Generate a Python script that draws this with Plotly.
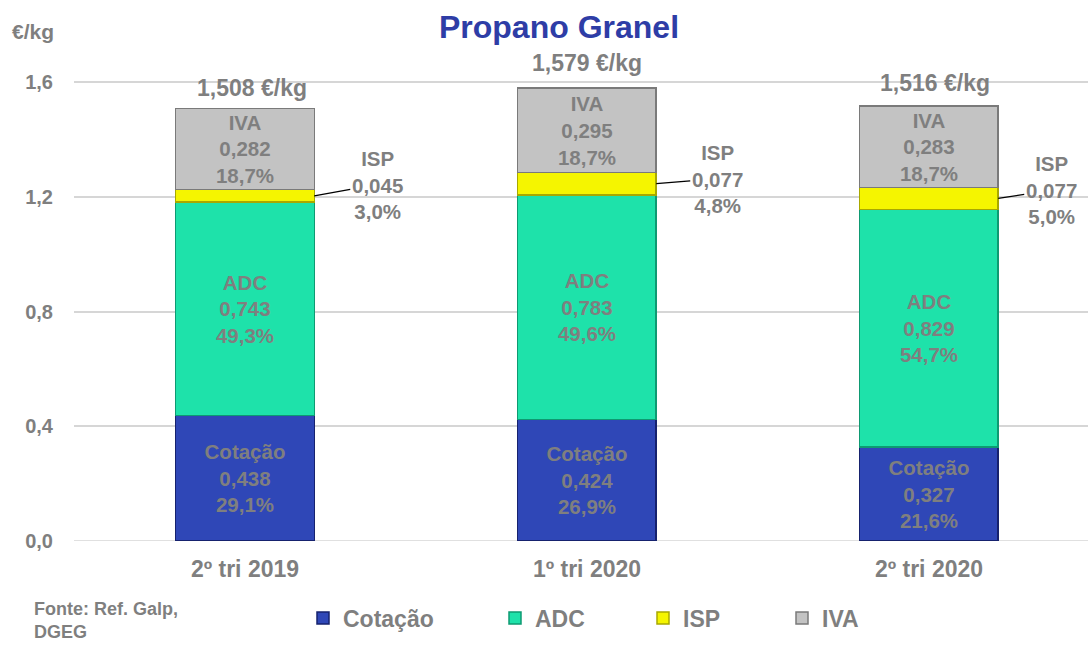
import plotly.graph_objects as go

categories = ["2º tri 2019", "1º tri 2020", "2º tri 2020"]
cotacao = [0.438, 0.424, 0.327]
adc = [0.743, 0.783, 0.829]
isp = [0.045, 0.077, 0.077]
iva = [0.282, 0.295, 0.283]
totals = [1.508, 1.579, 1.516]
pct_cotacao = [29.1, 26.9, 21.6]
pct_adc = [49.3, 49.6, 54.7]
pct_isp = [3.0, 4.8, 5.0]
pct_iva = [18.7, 18.7, 18.7]

FONT = "Liberation Sans, Arial, sans-serif"
GREY = "#7f7f7f"

W, H = 1088, 645
ML, MR, MT, MB = 74, 0, 39, 104
PW, PH = W - ML - MR, H - MT - MB


def px_x(px):
    return (px - ML) / PW


def px_y(py):
    return (H - MB - py) / PH


def cx(px):
    return px / W


def cy(py):
    return 1 - py / H


def fmt(v, d):
    return f"{v:.{d}f}".replace(".", ",")


def seg_text(name, vals, pcts):
    return [f"{name}<br>{fmt(v, 3)}<br>{fmt(p, 1)}%" for v, p in zip(vals, pcts)]


series = [
    ("Cotação", cotacao, pct_cotacao, "#2f47b7", "#16226e", True, "legend2", 303),
    ("ADC", adc, pct_adc, "#1ee2aa", "#0e9a72", True, "legend3", 495),
    ("ISP", isp, pct_isp, "#f5f500", "#a8a800", False, "legend4", 643),
    ("IVA", iva, pct_iva, "#c3c3c3", "#7a7a7a", True, "legend5", 782),
]

fig = go.Figure()
for name, vals, pcts, col, edge, inside, lg, _ in series:
    fig.add_trace(go.Bar(
        x=categories, y=vals, name=name, legend=lg, showlegend=True,
        marker=dict(color=col, line=dict(color=edge, width=1.5)),
        width=0.405,
        text=seg_text(name, vals, pcts) if inside else None,
        textposition="inside" if inside else "none",
        insidetextanchor="middle",
        constraintext="none",
        textangle=0,
        textfont=dict(family=FONT, size=20.5, color=GREY, weight="bold"),
        hoverinfo="skip",
    ))

annotations = []
# totals
total_shift = [(7, 20), (0, 25), (6, 23)]
for c, t, (xs, ys) in zip(categories, totals, total_shift):
    annotations.append(dict(
        x=c, y=t, xref="x", yref="y", text=f"{fmt(t, 3)} €/kg",
        showarrow=False, xshift=xs, yshift=ys,
        font=dict(family=FONT, size=23, color=GREY, weight="bold"),
    ))

# ISP callouts
base = [a + b for a, b in zip(cotacao, adc)]
isp_offsets = [(63, -11), (61, -5), (53, -8)]
for i, c in enumerate(categories):
    annotations.append(dict(
        x=i + 0.2025, y=base[i] + isp[i] / 2, xref="x", yref="y",
        text=f"ISP<br>{fmt(isp[i], 3)}<br>{fmt(pct_isp[i], 1)}%",
        showarrow=True, arrowhead=0, arrowwidth=1.3, arrowcolor="#000000",
        ax=isp_offsets[i][0], ay=isp_offsets[i][1], standoff=0,
        font=dict(family=FONT, size=20.5, color=GREY, weight="bold"),
    ))

# unit label and source
annotations.append(dict(
    x=px_x(10), y=px_y(31), xref="paper", yref="paper",
    xanchor="left", yanchor="middle", text="€/kg", showarrow=False,
    font=dict(family=FONT, size=21, color=GREY, weight="bold"),
))
annotations.append(dict(
    x=px_x(33), y=px_y(643), xref="paper", yref="paper",
    xanchor="left", yanchor="bottom", align="left", borderpad=0,
    text="Fonte: Ref. Galp,<br>DGEG", showarrow=False,
    font=dict(family=FONT, size=18, color=GREY, weight="bold"),
))

leg_font = dict(family=FONT, size=23, color=GREY, weight="bold")
legends = {}
for name, *_rest in series:
    lg, lx = _rest[-2], _rest[-1]
    legends[lg] = dict(orientation="h", yref="container", xref="container",
                       x=cx(lx), y=cy(618), yanchor="middle", xanchor="left",
                       font=leg_font, bgcolor="rgba(0,0,0,0)", borderwidth=0)

fig.update_layout(
    width=W, height=H,
    barmode="stack",
    showlegend=True,
    paper_bgcolor="white", plot_bgcolor="white",
    separators=",.",
    margin=dict(l=ML, r=MR, t=MT, b=MB),
    title=dict(text="Propano Granel", x=cx(559), xanchor="center",
               y=cy(27), yanchor="middle", xref="container", yref="container",
               font=dict(family=FONT, size=32, color="#2e3da6", weight="bold")),
    xaxis=dict(range=[-0.5, 2.465], showgrid=False, zeroline=False,
               showline=False, ticks="", ticklabelstandoff=12,
               tickfont=dict(family=FONT, size=23, color=GREY, weight="bold")),
    yaxis=dict(range=[0, 1.75], tickmode="array",
               tickvals=[0, 0.4, 0.8, 1.2, 1.6],
               ticktext=["0,0", "0,4", "0,8", "1,2", "1,6"],
               showgrid=True, gridcolor="#d6d6d6", gridwidth=1.5,
               zeroline=False, showline=False, ticks="",
               ticklabelstandoff=20,
               tickfont=dict(family=FONT, size=20, color=GREY, weight="bold")),
    annotations=annotations,
    shapes=[dict(type="line", xref="paper", yref="y", x0=0, x1=1, y0=0, y1=0,
                 line=dict(color="#d6d6d6", width=1.5), layer="below")],
    **legends,
)

fig.write_html(
    "out.html",
    config={"displayModeBar": False},
    post_script="document.body.style.margin='0';document.body.style.overflow='hidden';",
)
